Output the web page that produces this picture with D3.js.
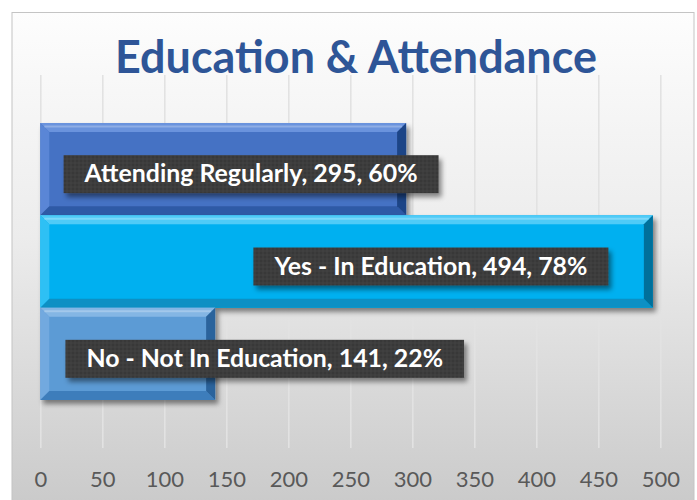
<!DOCTYPE html>
<html>
<head>
<meta charset="utf-8">
<script src="https://cdn.jsdelivr.net/npm/d3@7"></script>
<style>
  body { margin: 0; background: #fff; }
</style>
</head>
<body>
<svg id="chart" width="697" height="500"></svg>
<script>
// data
var categories = ["Attending Regularly", "Yes - In Education", "No - Not In Education"];
var counts = [295, 494, 141];
var percents = ["60%", "78%", "22%"];
var tickValues = [0, 50, 100, 150, 200, 250, 300, 350, 400, 450, 500];

// bevel shades per bar: face, top, left, bottom, right
var shades = [
    { face: "#4472c4", top: "#6a93dd", left: "#5a86d6", bottom: "#2f5aa6", right: "#1f4587" },
    { face: "#00b0f0", top: "#4fcbf7", left: "#2dc0f4", bottom: "#0890c4", right: "#05709b" },
    { face: "#5b9bd5", top: "#84b6e4", left: "#72a9df", bottom: "#3e7dbb", right: "#2c649c" }
];
// where each data label sits along the value axis (manual placement in the source)
var labelAt = [170, 315, 181];

var width = 697,
    height = 500;

var svg = d3.select("#chart");
var defs = svg.append("defs");

var bg = defs.append("linearGradient")
    .attr("id", "bg").attr("x1", 0).attr("y1", 0).attr("x2", 0).attr("y2", 1);
bg.append("stop").attr("offset", "0%").attr("stop-color", "#fdfdfd");
bg.append("stop").attr("offset", "45%").attr("stop-color", "#ececec");
bg.append("stop").attr("offset", "100%").attr("stop-color", "#c9c9c9");

var grid = defs.append("linearGradient")
    .attr("id", "grid").attr("gradientUnits", "userSpaceOnUse")
    .attr("x1", 0).attr("y1", 75).attr("x2", 0).attr("y2", 448);
grid.append("stop").attr("offset", "0%").attr("stop-color", "#e2e2e2");
grid.append("stop").attr("offset", "35%").attr("stop-color", "#a0a0a0");
grid.append("stop").attr("offset", "100%").attr("stop-color", "#7a7a7a");

var dots = defs.append("pattern")
    .attr("id", "dots").attr("patternUnits", "userSpaceOnUse")
    .attr("width", 4).attr("height", 4);
dots.append("rect").attr("width", 4).attr("height", 4).attr("fill", "#3d3d3d");
dots.append("circle").attr("cx", 1).attr("cy", 1).attr("r", 0.8).attr("fill", "#2e2e2e");
dots.append("circle").attr("cx", 3).attr("cy", 3).attr("r", 0.6).attr("fill", "#4a4a4a");

var shadow = defs.append("filter").attr("id", "shadow")
    .attr("x", "-10%").attr("y", "-20%").attr("width", "130%").attr("height", "160%");
shadow.append("feDropShadow")
    .attr("dx", 3).attr("dy", 4).attr("stdDeviation", 2.5)
    .attr("flood-color", "#000").attr("flood-opacity", 0.45);

// chart area
svg.append("rect")
    .attr("x", 12).attr("y", 12.5)
    .attr("width", 682).attr("height", 500)
    .attr("fill", "url(#bg)")
    .attr("stroke", "#c4c4c4");

var x = d3.scaleLinear()
    .domain([0, 500])
    .range([40.3, 660.3]);

var y = d3.scaleBand()
    .domain(categories)
    .range([75, 448])
    .paddingInner(0)
    .paddingOuter(0.52);

// gridlines + tick labels
var axis = svg.append("g")
    .attr("transform", "translate(0,448)")
    .call(d3.axisBottom(x)
        .tickValues(tickValues)
        .tickFormat(d3.format("d"))
        .tickSize(-(448 - 75))
        .tickPadding(23));

axis.select(".domain").remove();
axis.selectAll(".tick line")
    .attr("stroke", "url(#grid)")
    .attr("stroke-width", 1.6);
axis.selectAll(".tick text")
    .attr("fill", "#595959")
    .attr("font-family", "Lato, 'Open Sans', sans-serif")
    .attr("font-size", 22);

// bars with bevel
var b = 9;
var bars = svg.selectAll(".bar")
    .data(categories)
    .enter()
    .append("g")
        .attr("class", "bar")
        .attr("filter", "url(#shadow)");

bars.each(function(c, i) {
    var g = d3.select(this),
        s = shades[i],
        x0 = x(0), x1 = x(counts[i]),
        y0 = y(c), y1 = y(c) + y.bandwidth();

    g.append("rect")
        .attr("x", x0).attr("y", y0)
        .attr("width", x1 - x0).attr("height", y1 - y0)
        .attr("fill", s.face);

    var poly = function(pts, fill) {
        g.append("polygon")
            .attr("points", pts.map(p => p.join(",")).join(" "))
            .attr("fill", fill);
    };
    poly([[x0, y0], [x1, y0], [x1 - b, y0 + b], [x0 + b, y0 + b]], s.top);
    poly([[x0, y0], [x0 + b, y0 + b], [x0 + b, y1 - b], [x0, y1]], s.left);
    poly([[x0, y1], [x1, y1], [x1 - b, y1 - b], [x0 + b, y1 - b]], s.bottom);
    poly([[x1, y0], [x1 - b, y0 + b], [x1 - b, y1 - b], [x1, y1]], s.right);

    // thin highlight along the top bevel
    g.append("line")
        .attr("x1", x0 + 4).attr("x2", x1 - 4)
        .attr("y1", y0 + 3.5).attr("y2", y0 + 3.5)
        .attr("stroke", "#ffffff").attr("stroke-opacity", 0.25)
        .attr("stroke-width", 2);
});

// data labels
var labelFont = "Lato, 'Open Sans', sans-serif";
var labelSize = 22;

// fit the font so the first label matches the width it has in the source
var probe = svg.append("text")
    .attr("font-family", labelFont)
    .attr("font-weight", "bold")
    .attr("font-size", labelSize)
    .text(categories[0] + ", " + counts[0] + ", " + percents[0]);
labelSize = labelSize * 333 / probe.node().getComputedTextLength();
probe.remove();

var labels = svg.selectAll(".label")
    .data(categories)
    .enter()
    .append("g")
        .attr("class", "label");

labels.each(function(c, i) {
    var g = d3.select(this),
        cx = x(labelAt[i]),
        cy = y(c) + y.bandwidth() / 2 + 5;

    var box = g.append("rect").attr("fill", "url(#dots)").attr("filter", "url(#shadow)");
    var t = g.append("text")
        .attr("x", cx)
        .attr("y", cy + 8)
        .attr("text-anchor", "middle")
        .attr("fill", "#ffffff")
        .attr("font-family", labelFont)
        .attr("font-weight", "bold")
        .attr("font-size", labelSize)
        .text(c + ", " + counts[i] + ", " + percents[i]);

    var w = t.node().getComputedTextLength();
    var pad = 21;
    box.attr("x", cx - w / 2 - pad).attr("y", cy - 19)
        .attr("width", w + 2 * pad).attr("height", 38);
});

// title
var title = svg.append("text")
    .attr("x", 356)
    .attr("y", 73)
    .attr("text-anchor", "middle")
    .attr("fill", "#2e5597")
    .attr("font-family", "Lato, 'Open Sans', sans-serif")
    .attr("font-weight", "bold")
    .attr("font-size", 40)
    .text("Education & Attendance");

var tw = title.node().getComputedTextLength();
title.attr("font-size", 40 * 482 / tw);
</script>
</body>
</html>
